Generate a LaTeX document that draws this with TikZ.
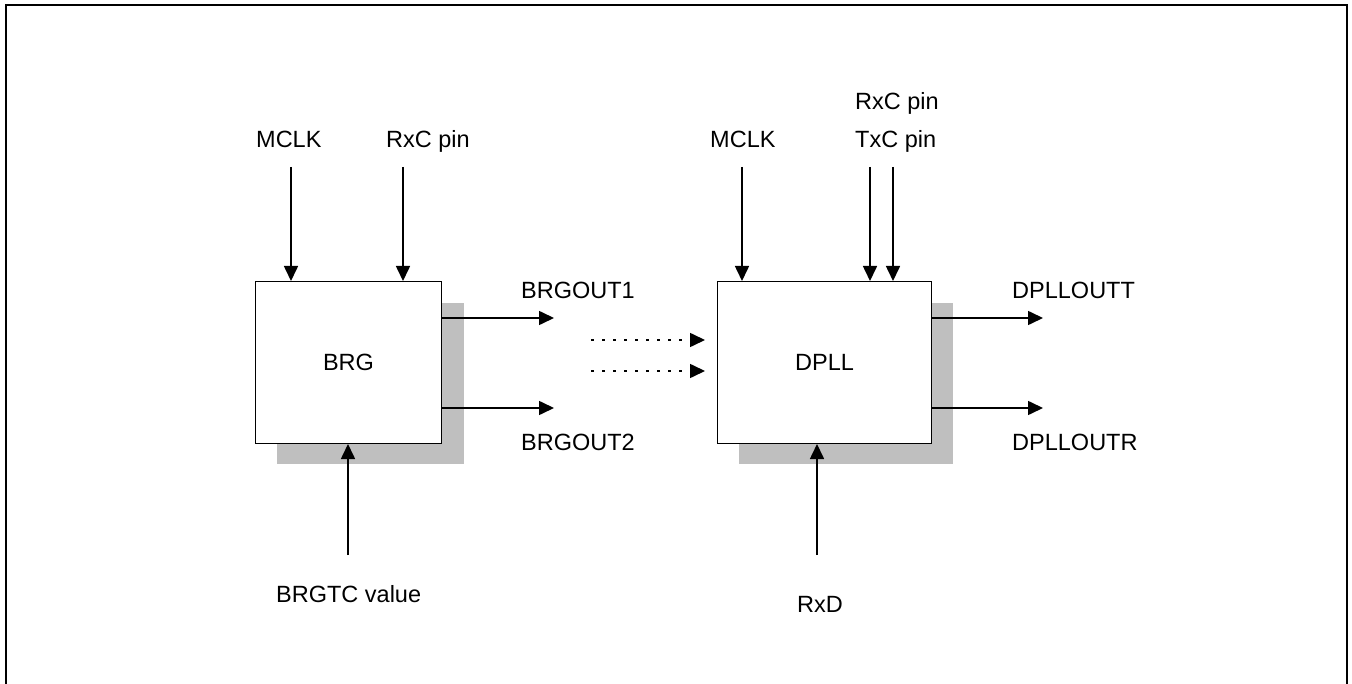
\documentclass[tikz,border=0pt]{standalone}
\usepackage{fontspec}
\setmainfont{Liberation Sans}
\usetikzlibrary{arrows.meta}

\tikzset{
  blk/.style={draw, line width=1pt, fill=white, minimum width=186pt, minimum height=162pt, inner sep=0pt},
  shade/.style={fill=black!25, draw=none},
  sig/.style={line width=1.6pt, -{Triangle[length=15pt,width=14pt]}},
  dotsig/.style={sig, dash pattern=on 3pt off 8pt},
  lbl/.style={anchor=base west, inner sep=0pt, font=\fontsize{23.5}{28}\selectfont},
}

\begin{document}
\begin{tikzpicture}[x=1pt, y=-1pt]
  \useasboundingbox (0,0) rectangle (1352,684);
  % frame
  \draw[line width=2.2pt] (6,684) -- (6,5) -- (1347,5) -- (1347,684);

  % BRG block
  \fill[shade] (277,303) rectangle (464,464);
  \node[blk, anchor=north west] (brg) at (255,281) {};
  \node[font=\fontsize{23.5}{28}\selectfont] (brgname) at (brg.center) {BRG};

  \node[lbl] (bmclk) at (256,148) {MCLK};
  \node[lbl] (brxc) at (386,148) {RxC pin};
  \coordinate (bmclkin) at (291,167);
  \coordinate (brxcin) at (403,167);
  \draw[sig] (bmclkin) -- (bmclkin |- brg.north);
  \draw[sig] (brxcin) -- (brxcin |- brg.north);

  \coordinate (bout1) at (554,318);
  \coordinate (bout2) at (554,408);
  \draw[sig] (bout1 -| brg.east) -- (bout1);
  \draw[sig] (bout2 -| brg.east) -- (bout2);
  \node[lbl] (bout1lbl) at (521,299) {BRGOUT1};
  \node[lbl] (bout2lbl) at (521,450) {BRGOUT2};

  \coordinate (btc) at (348,555);
  \draw[sig] (btc) -- (btc |- brg.south);
  \node[lbl] (btclbl) at (276,602) {BRGTC value};

  % links between blocks
  \coordinate (lnk1) at (591,340);
  \coordinate (lnk2) at (591,371);
  \draw[dotsig] (lnk1) -- (705,340);
  \draw[dotsig] (lnk2) -- (705,371);

  % DPLL block
  \fill[shade] (739,303) rectangle (953,464);
  \node[blk, anchor=north west, minimum width=214pt] (dpll) at (717,281) {};
  \node[font=\fontsize{23.5}{28}\selectfont] (dpllname) at (dpll.center) {DPLL};

  \node[lbl] (dmclk) at (710,148) {MCLK};
  \node[lbl] (drxc) at (855,110) {RxC pin};
  \node[lbl] (dtxc) at (855,148) {TxC pin};
  \coordinate (dmclkin) at (742,167);
  \coordinate (drxcin) at (870,167);
  \coordinate (dtxcin) at (893,167);
  \draw[sig] (dmclkin) -- (dmclkin |- dpll.north);
  \draw[sig] (drxcin) -- (drxcin |- dpll.north);
  \draw[sig] (dtxcin) -- (dtxcin |- dpll.north);

  \coordinate (dout1) at (1043,318);
  \coordinate (dout2) at (1043,408);
  \draw[sig] (dout1 -| dpll.east) -- (dout1);
  \draw[sig] (dout2 -| dpll.east) -- (dout2);
  \node[lbl] (dout1lbl) at (1012,299) {DPLLOUTT};
  \node[lbl] (dout2lbl) at (1012,450) {DPLLOUTR};

  \coordinate (drxd) at (817,555);
  \draw[sig] (drxd) -- (drxd |- dpll.south);
  \node[lbl] (drxdlbl) at (797,612) {RxD};
\end{tikzpicture}
\end{document}
